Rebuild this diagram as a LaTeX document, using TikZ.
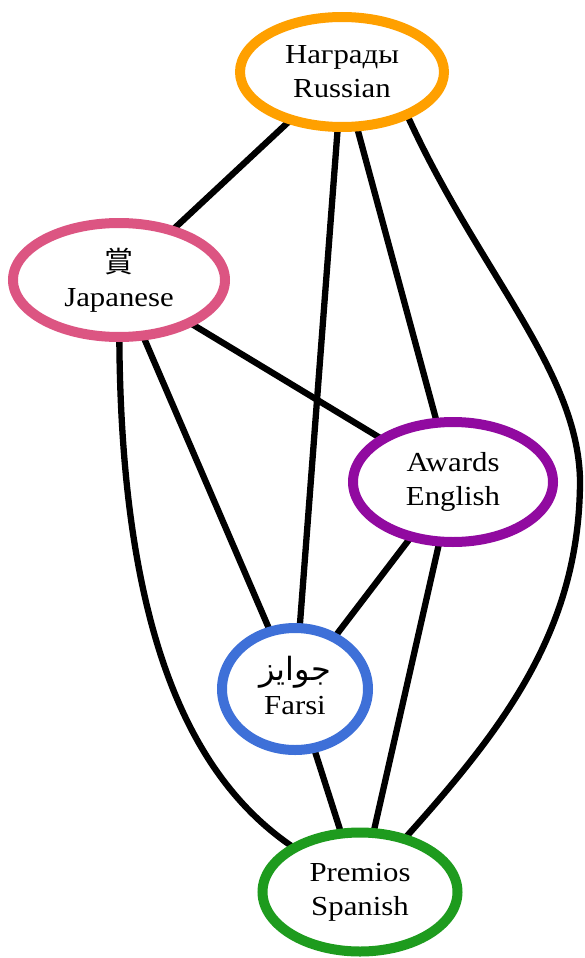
\documentclass[tikz,border=0pt]{standalone}
\usepackage{fontspec}
\setmainfont[FakeStretch=1.12]{Liberation Serif}
\newfontfamily\cjk{Noto Sans CJK JP}
\newfontfamily\arabicfont[Script=Arabic]{DejaVu Sans}
\TeXXeTstate=1
\usetikzlibrary{shapes.geometric}
\definecolor{cRu}{RGB}{255,160,0}
\definecolor{cJa}{RGB}{220,85,130}
\definecolor{cEn}{RGB}{145,10,160}
\definecolor{cFa}{RGB}{62,112,216}
\definecolor{cEs}{RGB}{30,155,30}
\pgfdeclarelayer{background}
\pgfsetlayers{background,main}
\begin{document}
\begin{tikzpicture}[x=1pt,y=-1pt,
  nd/.style={ellipse, line width=10pt, fill=white, inner sep=0pt, align=center,
    font=\fontsize{27.5}{34}\selectfont},
  edge/.style={line width=6.3pt, black, shorten <=-5pt, shorten >=-5pt}]
\useasboundingbox (0,0) rectangle (584,958);
\node[nd, draw=cRu, minimum width=204pt, minimum height=110pt] (R) at (342,72) {Награды\\Russian};
\node[nd, draw=cJa, minimum width=212pt, minimum height=114pt] (J) at (119,280) {{\cjk\fontsize{29}{34}\selectfont 賞}\\Japanese};
\node[nd, draw=cEn, minimum width=200pt, minimum height=120pt] (E) at (453,482) {Awards\\English};
\node[nd, draw=cFa, minimum width=146pt, minimum height=122pt] (F) at (295,689) {\smash{\arabicfont\fontsize{32}{34}\selectfont\beginR جوایز\endR}\vphantom{Ag}\\Farsi};
\node[nd, draw=cEs, minimum width=195pt, minimum height=119pt] (S) at (360,892) {Premios\\Spanish};
\begin{pgfonlayer}{background}
\draw[edge] (R) -- (J);
\draw[edge] (R) -- (F);
\draw[edge] (R) -- (E);
\draw[edge] (R.-35) .. controls (478,271) and (578,370) .. (580,480)
  .. controls (580,630) and (503,729) .. (S.50);
\draw[edge] (J) -- (E);
\draw[edge] (J) -- (F);
\draw[edge] (J) .. controls (121,638) and (193,780) .. (S);
\draw[edge] (E) -- (F);
\draw[edge] (E) -- (S);
\draw[edge] (F) -- (S);
\end{pgfonlayer}
\end{tikzpicture}
\end{document}
